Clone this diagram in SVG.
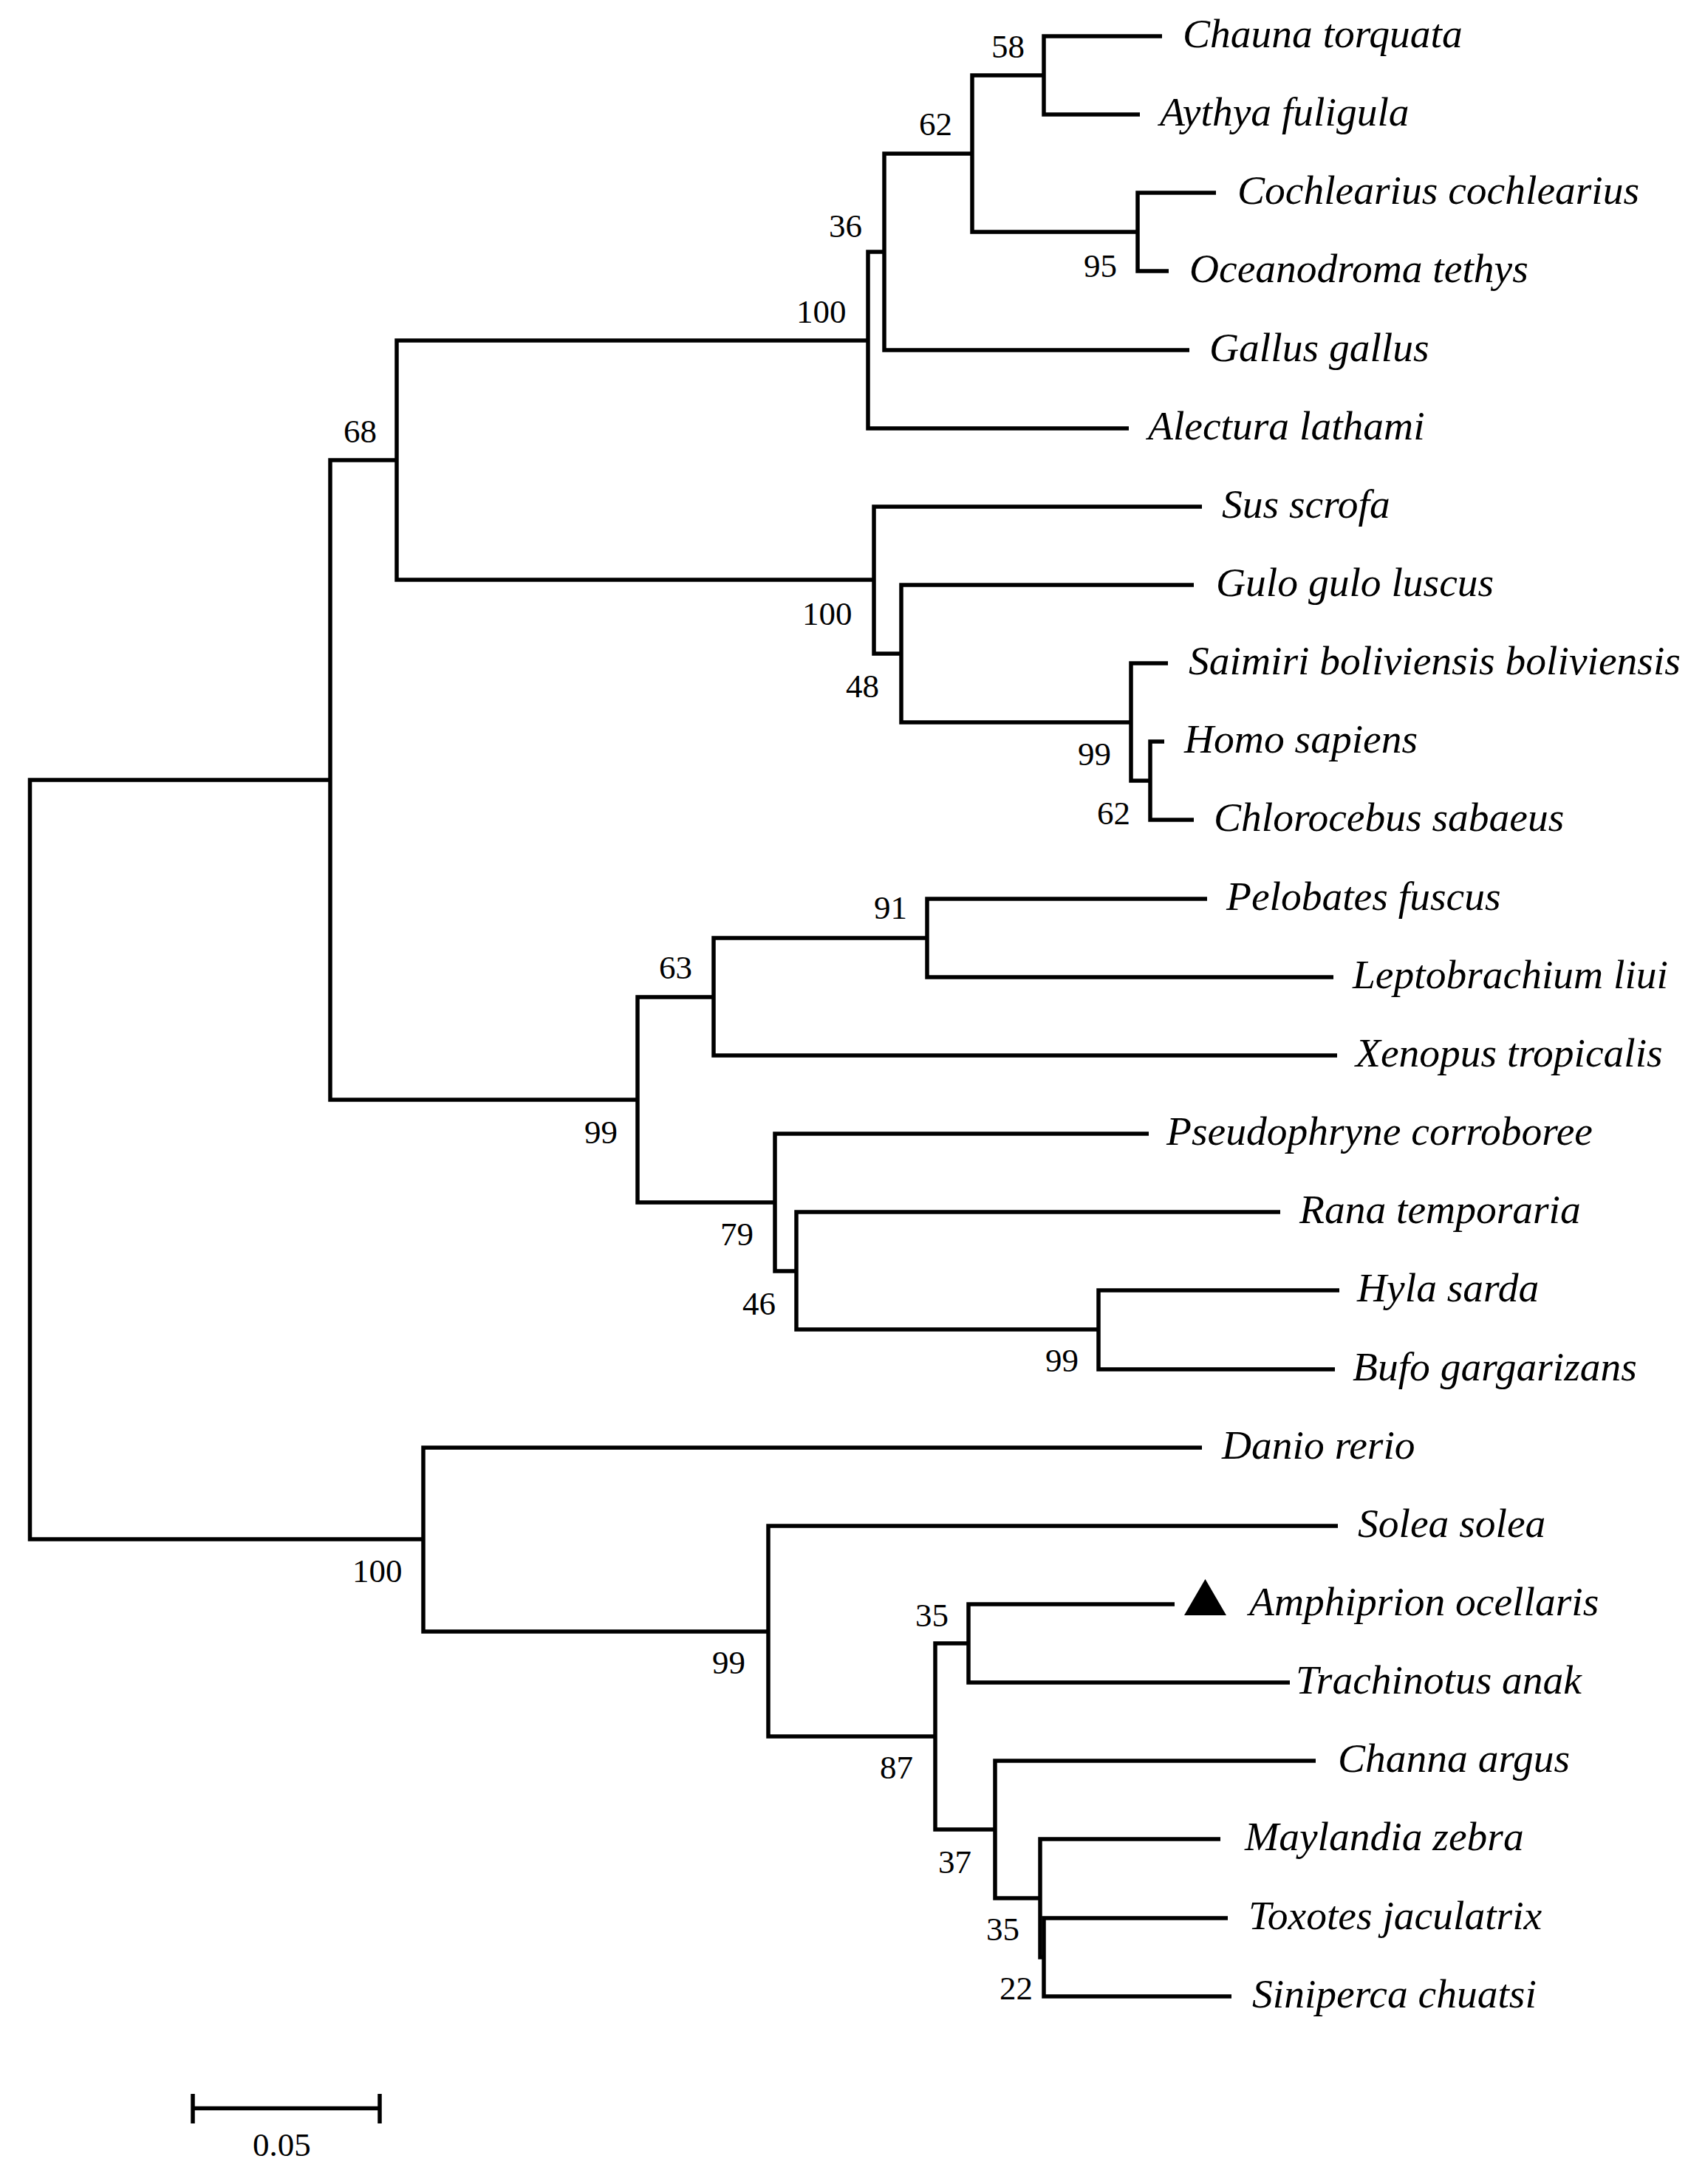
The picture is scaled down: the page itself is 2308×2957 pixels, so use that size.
<svg xmlns="http://www.w3.org/2000/svg" width="2308" height="2957" viewBox="0 0 2308 2957">
<style>
.br{fill:none;stroke:#000;stroke-width:5.5;stroke-linejoin:miter;stroke-linecap:butt}
.sp{font-family:"Liberation Serif","Times New Roman",serif;font-style:italic;font-size:55.5px;fill:#000}
.bs{font-family:"Liberation Serif","Times New Roman",serif;font-size:45px;fill:#000}
</style>
<rect width="2308" height="2957" fill="#fff"/>
<g id="connectors" class="br">
<path d="M1573 49 H1413 V155 H1543"/>
<path d="M1646 261 H1540 V367 H1582"/>
<path d="M1413 102 H1316 V314 H1540"/>
<path d="M1316 208 H1197 V474 H1610"/>
<path d="M1197 341 H1175 V580 H1528"/>
<path d="M1175 461 H537 V785 H1183"/>
<path d="M1627 686 H1183 V885 H1220"/>
<path d="M1616 792 H1220 V978 H1531"/>
<path d="M1581 898 H1531 V1057 H1557"/>
<path d="M1576 1004 H1557 V1110 H1616"/>
<path d="M537 623 H447 V1489 H863"/>
<path d="M966 1350 H863 V1628 H1049"/>
<path d="M1255 1270 H966 V1429 H1810"/>
<path d="M1634 1217 H1255 V1323 H1805"/>
<path d="M1555 1535 H1049 V1721 H1078"/>
<path d="M1733 1641 H1078 V1800 H1487"/>
<path d="M1813 1747 H1487 V1854 H1807"/>
<path d="M447 1056 H40.5 V2084 H573"/>
<path d="M1627 1960 H573 V2209 H1040"/>
<path d="M1811 2066 H1040 V2351 H1266"/>
<path d="M1311 2225 H1266 V2477 H1347"/>
<path d="M1590 2172 H1311 V2278 H1746"/>
<path d="M1781 2384 H1347 V2570 H1408"/>
<path d="M1652 2490 H1408 V2650 H1413"/>
<path d="M1662 2597 H1413 V2703 H1667"/>
</g>
<g id="leaves" class="sp">
<g id="leaf-chauna"><text x="1601" y="64">Chauna torquata</text></g>
<g id="leaf-aythya"><text x="1570" y="170">Aythya fuligula</text></g>
<g id="leaf-cochlearius"><text x="1675" y="276">Cochlearius cochlearius</text></g>
<g id="leaf-oceanodroma"><text x="1610" y="382">Oceanodroma tethys</text></g>
<g id="leaf-gallus"><text x="1637" y="489">Gallus gallus</text></g>
<g id="leaf-alectura"><text x="1554" y="595">Alectura lathami</text></g>
<g id="leaf-sus"><text x="1654" y="701">Sus scrofa</text></g>
<g id="leaf-gulo"><text x="1646" y="807">Gulo gulo luscus</text></g>
<g id="leaf-saimiri"><text x="1609" y="913">Saimiri boliviensis boliviensis</text></g>
<g id="leaf-homo"><text x="1603" y="1019">Homo sapiens</text></g>
<g id="leaf-chlorocebus"><text x="1643" y="1125">Chlorocebus sabaeus</text></g>
<g id="leaf-pelobates"><text x="1660" y="1232">Pelobates fuscus</text></g>
<g id="leaf-leptobrachium"><text x="1831" y="1338">Leptobrachium liui</text></g>
<g id="leaf-xenopus"><text x="1835" y="1444">Xenopus tropicalis</text></g>
<g id="leaf-pseudophryne"><text x="1579" y="1550">Pseudophryne corroboree</text></g>
<g id="leaf-rana"><text x="1759" y="1656">Rana temporaria</text></g>
<g id="leaf-hyla"><text x="1837" y="1762">Hyla sarda</text></g>
<g id="leaf-bufo"><text x="1831" y="1869">Bufo gargarizans</text></g>
<g id="leaf-danio"><text x="1654" y="1975">Danio rerio</text></g>
<g id="leaf-solea"><text x="1838" y="2081">Solea solea</text></g>
<g id="leaf-amphiprion"><polygon points="1603,2187 1660,2187 1631.5,2138" fill="#000"/><text x="1691" y="2187">Amphiprion ocellaris</text></g>
<g id="leaf-trachinotus"><text x="1754" y="2293">Trachinotus anak</text></g>
<g id="leaf-channa"><text x="1811" y="2399">Channa argus</text></g>
<g id="leaf-maylandia"><text x="1685" y="2505">Maylandia zebra</text></g>
<g id="leaf-toxotes"><text x="1690" y="2612">Toxotes jaculatrix</text></g>
<g id="leaf-siniperca"><text x="1695" y="2718">Siniperca chuatsi</text></g>
</g>
<g id="bootstrap" class="bs">
<g id="node-58"><text x="1342" y="78">58</text></g>
<g id="node-62a"><text x="1244" y="183">62</text></g>
<g id="node-95"><text x="1467" y="375">95</text></g>
<g id="node-36"><text x="1122" y="321">36</text></g>
<g id="node-100a"><text x="1078" y="437">100</text></g>
<g id="node-68"><text x="465" y="599">68</text></g>
<g id="node-100b"><text x="1086" y="846">100</text></g>
<g id="node-48"><text x="1145" y="944">48</text></g>
<g id="node-99a"><text x="1459" y="1036">99</text></g>
<g id="node-62b"><text x="1485" y="1116">62</text></g>
<g id="node-91"><text x="1183" y="1244">91</text></g>
<g id="node-63"><text x="892" y="1325">63</text></g>
<g id="node-99b"><text x="791" y="1548">99</text></g>
<g id="node-79"><text x="975" y="1686">79</text></g>
<g id="node-46"><text x="1005" y="1780">46</text></g>
<g id="node-99c"><text x="1415" y="1857">99</text></g>
<g id="node-100c"><text x="477" y="2142">100</text></g>
<g id="node-99d"><text x="964" y="2266">99</text></g>
<g id="node-35a"><text x="1239" y="2202">35</text></g>
<g id="node-87"><text x="1191" y="2408">87</text></g>
<g id="node-37"><text x="1270" y="2536">37</text></g>
<g id="node-35b"><text x="1335" y="2627">35</text></g>
<g id="node-22"><text x="1353" y="2707">22</text></g>
</g>
<g id="scale-bar">
<path class="br" d="M261 2854.5 H514 M261 2835 V2875 M514 2835 V2875"/>
<text class="bs" x="342" y="2919">0.05</text>
</g>
</svg>
